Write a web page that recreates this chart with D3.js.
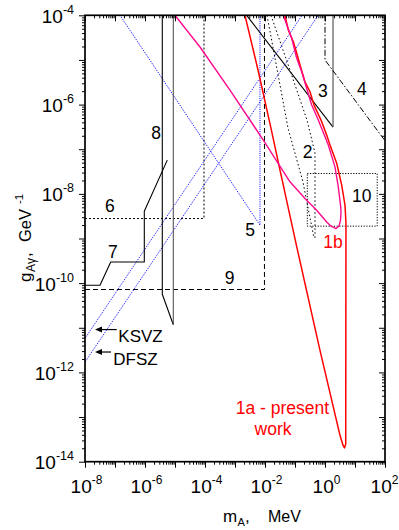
<!DOCTYPE html>
<html><head><meta charset="utf-8">
<script src="https://cdn.jsdelivr.net/npm/d3@7"></script>
<style>
body{margin:0;background:#fff}
svg text{font-family:"Liberation Sans",Arial,sans-serif;fill:#000}
</style>
</head><body>
<svg id="c" width="399" height="530"></svg>
<script>
// ---------- data ----------
const xDomain = [1e-8, 1e2];
const yDomain = [1e-14, 1e-4];
const xTickExp = [-8, -6, -4, -2, 0, 2];
const yTickExp = [-4, -6, -8, -10, -12, -14];

// 1a - present work (red), [m MeV, g GeV^-1]
const curve1a = [
  [2.15e-3,1e-4],[5.85e-3,5.94e-6],[0.0158,2.97e-7],[0.0316,3.4e-8],[0.117,6.07e-10],
  [0.681,3.13e-12],[3.16,3.9e-14],[3.98,2.34e-14],[4.47,2.04e-14],[4.9,2.45e-14],
  [5.0,2.2e-9],[4.64,5.6e-9],[3.6,1.57e-8],[2.93,2.9e-8],[2.45,4.87e-8],[1.47,1.24e-7],
  [1.14,2.07e-7],[0.736,4.5e-7],[0.43,9.75e-7],[0.316,1.94e-6],[0.215,3.24e-6],
  [0.147,7.7e-6],[0.114,1.43e-5],[0.0877,2.56e-5],[0.0598,4.68e-5],[0.0464,1e-4]
];
// 1b (magenta loop)
const curve1b = [
  [1e-5,1e-4],[6.8e-5,1.95e-5],[6.8e-4,2.11e-6],[8.8e-3,1.6e-7],[0.068,1.86e-8],
  [0.215,7.9e-9],[0.528,4.3e-9],[1.14,2.35e-9],[1.585,1.89e-9],[2.33,1.67e-9],
  [2.93,1.89e-9],[3.29,2.57e-9],[3.41,3.89e-9],[3.34,5.1e-9],[2.77,1.43e-8],[2.15,4.03e-8],
  [1.29,1.24e-7],[0.598,4.5e-7],[0.36,9.75e-7],[0.167,5.43e-6],[0.114,1.09e-5],
  [0.0776,3.05e-5],[0.0407,1e-4]
];
// 2 (dotted)
const curve2a = [[0.01167,1e-4],[0.0585,2.97e-7],[0.185,1.83e-8],[0.43,1.02e-9]];
const curve2b = [[0.0158,1e-4],[0.068,5.94e-6],[0.251,4.5e-7],[0.464,8.2e-8],[0.464,9.2e-10]];
// 3 (solid)
const region3 = [[2.45e-3,1e-4],[1.85,3.13e-7],[1.85,1e-4]];
// 4 (dash-dot)
const region4 = [[1.0,1e-4],[1.0,1e-5],[100,1.55e-7]];
// 5 (blue dotted)
const region5 = [[1.47e-7,1e-4],[6.8e-3,1.99e-9],[6.8e-3,1e-4]];
// 6 (dotted)
const region6 = [[1e-8,2.8e-9],[9.26e-5,2.8e-9],[9.26e-5,1e-4]];
// 7 (solid)
const region7 = [[1e-8,8.97e-11],[3.16e-8,8.97e-11],[7.2e-8,2.98e-10],[9.48e-7,2.98e-10],[9.48e-7,4.09e-9],[5.53e-6,5.7e-8]];
// 8 (solid)
const region8L = [[3.77e-6,1e-4],[3.77e-6,5.64e-11],[8.78e-6,1.17e-11]];
const region8R = [[8.78e-6,1.17e-11],[8.78e-6,1e-4]];
// 9 (dashed)
const region9 = [[1e-8,7.2e-11],[9.6e-3,7.2e-11],[9.6e-3,1e-4]];
// 10 (dotted box)
const region10 = [[0.257,2.86e-8],[55,1.89e-9]];
// axion model lines
const ksvz = [[1e-8,5.8e-12],[0.172,1e-4]];
const dfsz = [[1e-8,1.7e-12],[0.59,1e-4]];

// ---------- drawing ----------
const svg = d3.select("#c");
const L=85, R=385, T=15.3, B=461.7;
const x = d3.scaleLog().domain(xDomain).range([L,R]);
const y = d3.scaleLog().domain(yDomain).range([B,T]);
const line = d3.line().x(d=>x(d[0])).y(d=>y(d[1]));

svg.append("clipPath").attr("id","pc").append("rect")
  .attr("x",L).attr("y",T).attr("width",R-L).attr("height",B-T);
const g = svg.append("g").attr("clip-path","url(#pc)");

function path(data, color, w, dash){
  g.append("path").attr("d", line(data)).attr("fill","none")
   .attr("stroke",color).attr("stroke-width",w)
   .attr("stroke-linejoin","round")
   .attr("stroke-dasharray",dash||null);
}

// ticks
const majorX = d3.range(-8,3).map(e=>Math.pow(10,e));
const minorX = [];
for(let e=-8;e<2;e++) for(let k=2;k<10;k++) minorX.push(k*Math.pow(10,e));
const majorY = d3.range(-14,-3).map(e=>Math.pow(10,e));
const minorY = [];
for(let e=-14;e<-4;e++) for(let k=2;k<10;k++) minorY.push(k*Math.pow(10,e));

function ax(gen, scale, vals, size, tx, ty){
  const a = svg.append("g").attr("transform",`translate(${tx},${ty})`)
    .call(gen(scale).tickValues(vals).tickSizeInner(size).tickSizeOuter(0).tickFormat(""));
  a.select(".domain").remove();
  a.selectAll("line").attr("stroke","#000").attr("stroke-width",1);
}
ax(d3.axisBottom, x, majorX, 6, 0, B);
ax(d3.axisBottom, x, minorX, 3, 0, B);
ax(d3.axisTop, x, majorX, -6, 0, T);
ax(d3.axisTop, x, minorX, -3, 0, T);
ax(d3.axisLeft, y, majorY, 6, L, 0);
ax(d3.axisLeft, y, minorY, 3, L, 0);
ax(d3.axisRight, y, majorY, -6, R, 0);
ax(d3.axisRight, y, minorY, -3, R, 0);

// regions
path(region6, "#000", 1, "2,2");
path(region9, "#000", 1, "5,3");
path(region5, "#0000ff", 1, "1,1.2");
path(ksvz, "#0000ff", 1, "1,1.2");
path(dfsz, "#0000ff", 1, "1,1.2");
path(region7, "#000", 1.1);
path(region8L, "#000", 1.1);
path(region8R, "#555", 1.1);
path(curve2a, "#000", 1, "1.5,2.5");
path(curve2b, "#000", 1, "1.5,2.5");
path([region3[0],region3[1]], "#000", 1.1);
path([region3[1],region3[2]], "#666", 1.3);
path(region4, "#000", 1, "6,2,1.5,2");
g.append("rect").attr("x",x(region10[0][0])).attr("y",y(region10[0][1]))
  .attr("width",x(region10[1][0])-x(region10[0][0]))
  .attr("height",y(region10[1][1])-y(region10[0][1]))
  .attr("fill","none").attr("stroke","#000").attr("stroke-width",1).attr("stroke-dasharray","1.2,1.5");
path(curve1a, "#ff0000", 1.5);
path(curve1b, "#ff0a8c", 1.4);

// frame
svg.append("rect").attr("x",L).attr("y",T).attr("width",R-L).attr("height",B-T)
  .attr("fill","none").attr("stroke","#000").attr("stroke-width",1.7);

// tick labels
xTickExp.forEach(e=>{
  const t = svg.append("text").attr("x",x(Math.pow(10,e)) + (e===2 ? -0.5 : 1.5)).attr("y",493.3)
    .attr("text-anchor","middle").style("font-size","19px");
  t.append("tspan").text("10");
  t.append("tspan").attr("dy",-9).style("font-size","12px").text(e);
});
yTickExp.forEach(e=>{
  const t = svg.append("text").attr("x",74).attr("y",y(Math.pow(10,e))+7.5)
    .attr("text-anchor","end").style("font-size","19px");
  t.append("tspan").text("10");
  t.append("tspan").attr("dy",-9).style("font-size","12.5px").text(e);
});

// axis titles
const xt = svg.append("g");
xt.append("text").attr("x",223).attr("y",522).style("font-size","17px").text("m");
xt.append("text").attr("x",237.5).attr("y",526).style("font-size","11px").text("A");
xt.append("text").attr("x",245).attr("y",522).style("font-size","17px").text(",");
xt.append("text").attr("x",268).attr("y",522).style("font-size","16px").text("MeV");

const yt = svg.append("g").attr("transform","translate(31,0) rotate(-90)");
yt.append("text").attr("x",-282).attr("y",0).style("font-size","17px").text("g");
yt.append("text").attr("x",-272).attr("y",4).style("font-size","12px").text("A\u03b3");
yt.append("text").attr("x",-257).attr("y",0).style("font-size","17px").text(",");
yt.append("text").attr("x",-242).attr("y",0).style("font-size","16.5px").text("GeV");
yt.append("text").attr("x",-204).attr("y",-8).style("font-size","11.5px").text("-1");

// region labels (data coords)
const lab = (t, lm, lg, opt={}) => svg.append("text")
  .attr("x",x(Math.pow(10,lm))).attr("y",y(Math.pow(10,lg)))
  .attr("text-anchor",opt.anchor||"middle").style("font-size",(opt.size||17.5)+"px")
  .style("fill",opt.color||"#000").text(t);
lab("8",-5.633,-6.762);
lab("6",-7.167,-8.41);
lab("7",-7.067,-9.43);
lab("5",-2.5,-8.937);
lab("9",-3.177,-10.013);
lab("3",-0.067,-5.832);
lab("4",1.233,-5.776);
lab("2",-0.577,-7.188);
lab("10",1.223,-8.179);
lab("1b",0.267,-9.217,{color:"#ff0000"});
lab("1a - present",-1.417,-12.94,{color:"#ff0000"});
lab("work",-1.733,-13.41,{color:"#ff0000"});
lab("KSVZ",-6.89,-11.31,{anchor:"start",size:17});
lab("DFSZ",-7.057,-11.83,{anchor:"start",size:17});

// arrows
function arrow(m1, m2, gg){
  const x1=x(Math.pow(10,m1)), x2=x(Math.pow(10,m2)), yy=y(Math.pow(10,gg));
  svg.append("line").attr("x1",x1).attr("x2",x2+5).attr("y1",yy).attr("y2",yy)
    .attr("stroke","#000").attr("stroke-width",1.2);
  svg.append("path").attr("d",`M${x2},${yy} L${x2+7},${yy-3} L${x2+7},${yy+3} Z`).attr("fill","#000");
}
arrow(-6.943,-7.667,-11.04);
arrow(-7.133,-7.667,-11.543);
</script>
</body></html>
